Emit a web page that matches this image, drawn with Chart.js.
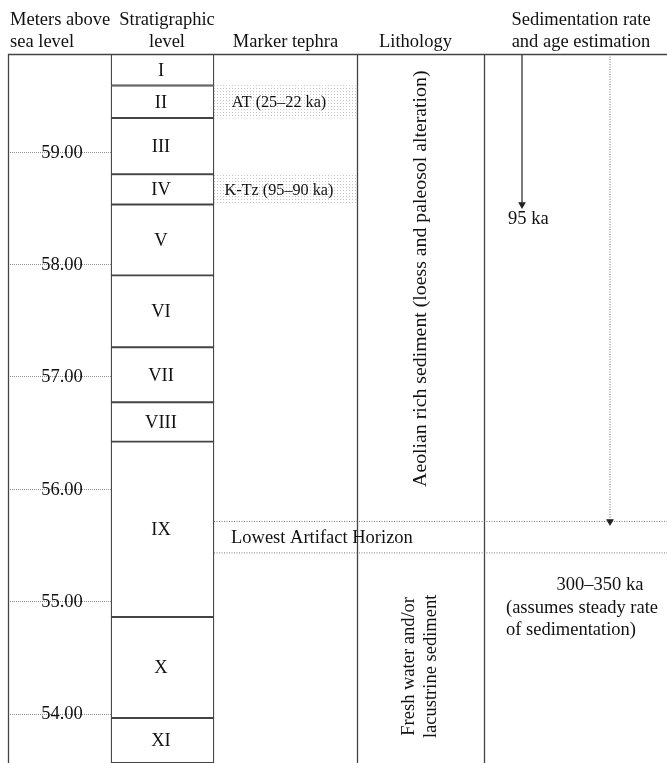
<!DOCTYPE html>
<html>
<head>
<meta charset="utf-8">
<script src="https://cdn.jsdelivr.net/npm/chart.js@4.4.1/dist/chart.umd.min.js"></script>
<style>
  html, body { margin: 0; padding: 0; background: #fff; }
</style>
</head>
<body>
<canvas id="strat" width="667" height="763"></canvas>
<script>
// --- data (metres above sea level) ---
const strata = ['I', 'II', 'III', 'IV', 'V', 'VI', 'VII', 'VIII', 'IX', 'X', 'XI'];
const strataTop = [59.87, 59.59, 59.30, 58.80, 58.53, 57.90, 57.26, 56.77, 56.42, 54.86, 53.96];
const strataBase = [59.59, 59.30, 58.80, 58.53, 57.90, 57.26, 56.77, 56.42, 54.86, 53.96, 53.56];
const elevTicks = [54, 55, 56, 57, 58, 59];

const tephra = ['AT (25–22 ka)', 'K-Tz (95–90 ka)'];
const tephraTop = [59.59, 58.80];
const tephraBase = [59.30, 58.53];

const artifactHorizon = [55.71, 55.43];        // upper / lower dotted line
const arrow95ka = [59.87, 58.53];              // solid arrow, surface -> 95 ka
const arrowSteady = [59.87, 55.71];            // dotted arrow, surface -> artifact horizon

const lithology = [
    { lines: ['Aeolian rich sediment (loess and paleosol alteration)'], at: 57.87, size: 19.8 },
    { lines: ['Fresh water and/or', 'lacustrine sediment'], at: 54.42, size: 18.5 }
];
const ageNote = { head: '300–350 ka', body: ['(assumes steady rate', 'of sedimentation)'], at: 55.14 };

// --- layout (x units = px from the left frame line) ---
const COL = {
    left: 0,
    strat: [103, 206],
    tephra: [206, 349],
    litho: [349, 476],
    right: 659,
    arrowSolid: 514,
    arrowDotted: 602
};
const headers = [
    { lines: ['Meters above', 'sea level'], x: 2, align: 'left' },
    { lines: ['Stratigraphic', 'level'], x: 159, align: 'center' },
    { lines: ['', 'Marker tephra'], x: 277.5, align: 'center' },
    { lines: ['', 'Lithology'], x: 407.5, align: 'center' },
    { lines: ['Sedimentation rate', 'and age estimation'], x: 573, align: 'center' }
];

const SERIF = '"Liberation Serif", "Times New Roman", serif';
const FONT = '18.5px ' + SERIF;
const FONT_SMALL = '16.2px ' + SERIF;
const LINE = '#444';
const INK = '#111';

const canvas = document.getElementById('strat');
const ctx = canvas.getContext('2d');

// light dotted fill for the tephra bands
function dotPattern() {
    const p = document.createElement('canvas');
    p.width = 3; p.height = 3;
    const pc = p.getContext('2d');
    pc.fillStyle = '#c6c6c6';
    pc.fillRect(1, 1, 1, 1);
    return ctx.createPattern(p, 'repeat');
}

const stratCenter = (COL.strat[0] + COL.strat[1]) / 2;
const tephraCenter = (COL.tephra[0] + COL.tephra[1]) / 2;

const stratDecor = {
    id: 'stratDecor',
    afterDatasetsDraw(chart) {
        const { ctx, chartArea: a, scales: { x, y } } = chart;
        ctx.save();

        // elevation tick lines (dotted, first column only)
        ctx.strokeStyle = '#8c8c8c';
        ctx.lineWidth = 1;
        ctx.setLineDash([1, 1]);
        elevTicks.forEach(v => {
            const py = Math.round(y.getPixelForValue(v)) + 0.5;
            ctx.beginPath();
            ctx.moveTo(x.getPixelForValue(COL.left), py);
            ctx.lineTo(x.getPixelForValue(COL.strat[0]), py);
            ctx.stroke();
        });
        ctx.setLineDash([]);

        // frame: top line + full-height column separators
        ctx.strokeStyle = LINE;
        ctx.lineWidth = 1.3;
        ctx.beginPath();
        ctx.moveTo(a.left, a.top + 0.5);
        ctx.lineTo(chart.width, a.top + 0.5);
        [COL.left, COL.tephra[1], COL.litho[1]].forEach(c => {
            const px = Math.round(x.getPixelForValue(c)) + 0.5;
            ctx.moveTo(px, a.top);
            ctx.lineTo(px, a.bottom);
        });
        ctx.stroke();

        // elevation labels
        ctx.fillStyle = INK;
        ctx.font = FONT;
        ctx.textAlign = 'center';
        ctx.textBaseline = 'middle';
        const lx = x.getPixelForValue((COL.left + COL.strat[0]) / 2) + 2.5;
        elevTicks.forEach(v => {
            ctx.fillText(v.toFixed(2), lx, y.getPixelForValue(v) + 1);
        });
        ctx.restore();
    },
    afterDraw(chart) {
        const { ctx, scales: { x, y } } = chart;
        ctx.save();
        ctx.fillStyle = INK;

        // column headers
        ctx.font = FONT;
        ctx.textBaseline = 'alphabetic';
        headers.forEach(h => {
            ctx.textAlign = h.align;
            h.lines.forEach((t, i) => {
                if (t) ctx.fillText(t, x.getPixelForValue(h.x), 25 + i * 22);
            });
        });

        // stratigraphic level numerals
        ctx.textAlign = 'center';
        ctx.textBaseline = 'middle';
        const stratMeta = chart.getDatasetMeta(0);
        stratMeta.data.forEach((bar, i) => {
            ctx.fillText(strata[i], bar.x - 1.5, (bar.y + bar.base) / 2 + 1);
        });

        // tephra names
        ctx.font = FONT_SMALL;
        const tephraMeta = chart.getDatasetMeta(1);
        tephraMeta.data.forEach((bar, i) => {
            ctx.fillText(tephra[i], bar.x - 6.5, (bar.y + bar.base) / 2 + 1);
        });

        // lowest artifact horizon
        ctx.font = FONT;
        ctx.textAlign = 'left';
        const hy = (y.getPixelForValue(artifactHorizon[0]) + y.getPixelForValue(artifactHorizon[1])) / 2;
        ctx.fillText('Lowest Artifact Horizon', x.getPixelForValue(COL.tephra[0] + 17), hy + 1);

        // lithology (rotated)
        const litX = x.getPixelForValue((COL.litho[0] + COL.litho[1]) / 2);
        lithology.forEach(l => {
            ctx.save();
            ctx.translate(litX, y.getPixelForValue(l.at));
            ctx.rotate(-Math.PI / 2);
            ctx.font = l.size + 'px ' + SERIF;
            ctx.textAlign = 'center';
            const n = l.lines.length;
            l.lines.forEach((t, i) => ctx.fillText(t, 0, (i - (n - 1) / 2) * 22));
            ctx.restore();
        });

        // age annotations
        ctx.font = FONT;
        ctx.textAlign = 'left';
        ctx.fillText('95 ka', x.getPixelForValue(COL.arrowSolid - 14), y.getPixelForValue(arrow95ka[1]) + 15);
        const ny = y.getPixelForValue(ageNote.at);
        ctx.textAlign = 'center';
        ctx.fillText(ageNote.head, x.getPixelForValue(592), ny);
        ctx.textAlign = 'left';
        ageNote.body.forEach((t, i) => ctx.fillText(t, x.getPixelForValue(498), ny + 22.5 * (i + 1)));

        ctx.restore();
    }
};

new Chart(ctx, {
    type: 'bar',
    data: {
        datasets: [
            {
                // stratigraphic levels
                type: 'bar',
                data: strata.map((s, i) => ({ x: stratCenter, y: [strataBase[i], strataTop[i]] })),
                backgroundColor: '#ffffff',
                borderColor: LINE,
                borderWidth: 1.3,
                borderSkipped: false,
                barThickness: COL.strat[1] - COL.strat[0],
                grouped: false,
                order: 2
            },
            {
                // marker tephra bands
                type: 'bar',
                data: tephra.map((t, i) => ({ x: tephraCenter, y: [tephraBase[i], tephraTop[i]] })),
                backgroundColor: dotPattern(),
                borderWidth: 0,
                barThickness: COL.tephra[1] - COL.tephra[0],
                grouped: false,
                order: 3
            },
            {
                type: 'line',
                data: [{ x: COL.tephra[0], y: artifactHorizon[0] }, { x: COL.right, y: artifactHorizon[0] }],
                borderColor: '#777',
                borderWidth: 1,
                borderDash: [1, 1.5],
                pointRadius: 0,
                order: 1
            },
            {
                type: 'line',
                data: [{ x: COL.tephra[0], y: artifactHorizon[1] }, { x: COL.right, y: artifactHorizon[1] }],
                borderColor: '#777',
                borderWidth: 1,
                borderDash: [1, 1.5],
                pointRadius: 0,
                order: 1
            },
            {
                // solid arrow to 95 ka
                type: 'line',
                data: arrow95ka.map(v => ({ x: COL.arrowSolid, y: v })),
                borderColor: '#333',
                borderWidth: 1.3,
                pointStyle: 'triangle',
                rotation: 180,
                pointRadius: [0, 4.5],
                pointBackgroundColor: '#222',
                pointBorderColor: '#222',
                pointBorderWidth: 0,
                order: 0
            },
            {
                // dotted arrow, steady sedimentation
                type: 'line',
                data: arrowSteady.map(v => ({ x: COL.arrowDotted, y: v })),
                borderColor: '#777',
                borderWidth: 1,
                borderDash: [1, 1.5],
                pointStyle: 'triangle',
                rotation: 180,
                pointRadius: [0, 4.5],
                pointBackgroundColor: '#222',
                pointBorderColor: '#222',
                pointBorderWidth: 0,
                order: 0
            }
        ]
    },
    options: {
        responsive: false,
        animation: false,
        events: [],
        layout: { autoPadding: false, padding: { left: 8, top: 54, right: 0, bottom: 0 } },
        scales: {
            x: { type: 'linear', min: COL.left, max: COL.right, offset: false, display: false },
            y: { type: 'linear', min: 53.56, max: 59.87, display: false }
        },
        plugins: {
            legend: { display: false },
            tooltip: { enabled: false }
        }
    },
    plugins: [stratDecor]
});
</script>
</body>
</html>
